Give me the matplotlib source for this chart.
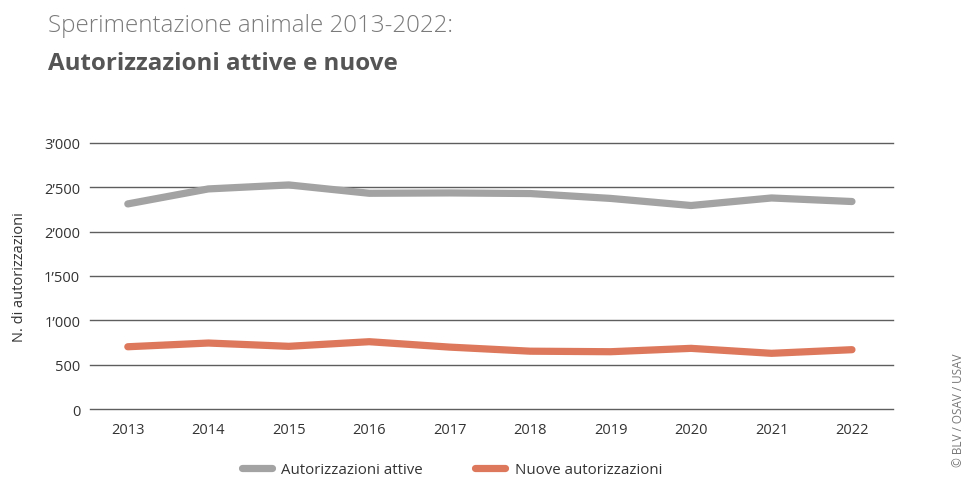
import matplotlib
matplotlib.use("Agg")
import matplotlib.pyplot as plt
from matplotlib.lines import Line2D

years = [2013, 2014, 2015, 2016, 2017, 2018, 2019, 2020, 2021, 2022]
attive = [2313, 2482, 2527, 2433, 2437, 2430, 2375, 2295, 2380, 2340]
nuove = [702, 744, 707, 759, 698, 652, 646, 684, 628, 669]
yticks = [0, 500, 1000, 1500, 2000, 2500, 3000]
ytick_labels = ["0", "500", "1\u2019000", "1\u2019500", "2\u2019000", "2\u2019500", "3\u2019000"]
series_names = ["Autorizzazioni attive", "Nuove autorizzazioni"]

GRAY = "#a3a3a3"
ORANGE = "#dd785c"
FONT = "Open Sans"

plt.rcParams['font.family'] = [FONT, 'DejaVu Sans']

fig = plt.figure(figsize=(9.65, 4.81), dpi=100)
ax = fig.add_axes([90/965, 1-410/481, (893-90)/965, (410-144)/481])

ax.plot(years, attive, color=GRAY, lw=5.2, solid_capstyle='round', solid_joinstyle='round', zorder=3)
ax.plot(years, nuove, color=ORANGE, lw=5.2, solid_capstyle='round', solid_joinstyle='round', zorder=3)

ax.set_ylim(0, 3000)
ax.set_xlim(2012.53, 2022.51)
ax.set_yticks(yticks)
ax.set_yticklabels(ytick_labels)
ax.set_xticks(years)
ax.set_xticklabels([str(y) for y in years])
ax.grid(axis='y', color='#5e5e5e', lw=1.0, zorder=1)
for gl in ax.get_ygridlines():
    gl.set_clip_on(False)
ax.set_axisbelow(True)
for s in ax.spines.values():
    s.set_visible(False)
ax.tick_params(axis='both', length=0, labelsize=10.5, colors='#333333')
ax.tick_params(axis='y', pad=7)
ax.tick_params(axis='x', pad=9)
ax.set_ylabel("N. di autorizzazioni", fontsize=10.5, color='#333333')
ax.yaxis.set_label_coords(-0.078, 0.5)

fig.text(48/965, 1-26/481, "Sperimentazione animale 2013-2022:", fontsize=17.4,
         fontweight='light', color='#7a7a7a', va='center', ha='left')
fig.text(48/965, 1-63.5/481, "Autorizzazioni attive e nuove", fontsize=17.4,
         fontweight='bold', color='#555555', va='center', ha='left')

handles = [Line2D([], [], color=GRAY, lw=5.2, solid_capstyle='round'),
           Line2D([], [], color=ORANGE, lw=5.2, solid_capstyle='round')]
fig.legend(handles, series_names, loc='center left', bbox_to_anchor=(228/965, 1-471/481),
           ncol=2, frameon=False, fontsize=10.8, handlelength=2.0, columnspacing=3.5,
           handletextpad=0.65, labelcolor='#333333')

fig.text(959/965, 1-410/481, "\u00a9 BLV / OSAV / USAV", rotation=90, fontsize=8.5,
         color='#777777', va='center', ha='center')

fig.savefig("out.png", dpi=100)
